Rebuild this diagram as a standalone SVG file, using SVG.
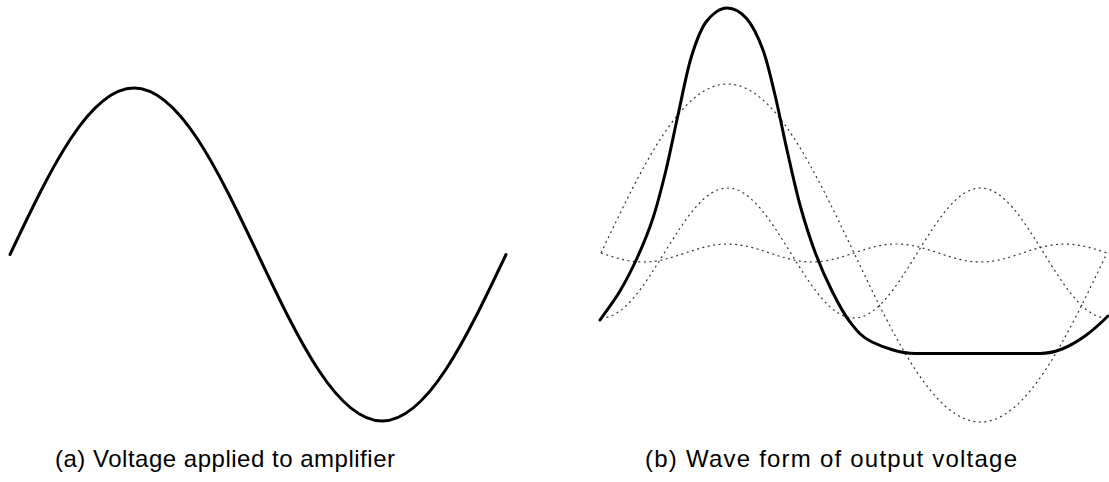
<svg xmlns="http://www.w3.org/2000/svg" width="1109" height="482" viewBox="0 0 1109 482">
<style>
.bold{fill:none;stroke:#000;stroke-width:3;stroke-linecap:round;stroke-linejoin:round}
.dot{fill:none;stroke:#333;stroke-width:1.2;stroke-dasharray:2 3.5}
.lbl{font-family:"Liberation Sans",Arial,sans-serif;font-size:24px;fill:#000}
</style>
<rect width="1109" height="482" fill="#fff"/>
<g id="panel-a">
<path id="input-sine" class="bold" d="M10,254.5 C50.44,169.2 89.12,88 134,88 S217.56,169.2 258,254.5 S337.12,421 382,421 S465.56,339.8 506,254.5"/>
<text class="lbl" x="55" y="467" textLength="340" lengthAdjust="spacing">(a) Voltage applied to amplifier</text>
</g>
<g id="panel-b">
<path id="fundamental" class="dot" d="M601,253 C642.25,166.42 681.22,84 727.5,84 S812.75,166.42 854,253 S934.72,422 980.5,422 S1065.75,339.58 1107,253"/>
<path id="second-harmonic" class="dot" d="M601,318 C623.89,318 643.62,286.3 664.25,253 S704.61,188 727.5,188 S770.12,219.7 790.75,253 S831.11,318 854,318 S896.62,286.3 917.25,253 S957.61,188 980.5,188 S1023.12,219.7 1043.75,253 S1084.11,318 1107,318"/>
<path id="third-harmonic" class="dot" d="M601,253 C614.75,257.61 627.91,262 643.17,262 S671.58,257.61 685.33,253 S712.24,244 727.5,244 S755.92,248.39 769.67,253 S796.58,262 811.83,262 S840.25,257.61 854,253 S880.91,244 896.17,244 S924.58,248.39 938.33,253 S965.24,262 980.5,262 S1008.92,257.61 1022.67,253 S1049.58,244 1064.83,244 S1093.25,248.39 1107,253"/>
<path id="output-wave" class="bold" d="M600,320 C606.67,310.33 613.67,301.67 620,291 C626.33,280.33 632.5,268.17 638,256 C643.5,243.83 648.33,232.33 653,218 C657.67,203.67 661.83,187.17 666,170 C670.17,152.83 673.83,133.67 678,115 C682.17,96.33 686.33,73.5 691,58 C695.67,42.5 700,30.33 706,22 C712,13.67 720.33,8 727,8 C733.67,8 741,12 747,19 C753,26 758.33,37.33 763,50 C767.67,62.67 771,78.33 775,95 C779,111.67 782.83,131.67 787,150 C791.17,168.33 795.33,188 800,205 C804.67,222 809.67,237.67 815,252 C820.33,266.33 826.17,279.33 832,291 C837.83,302.67 843.33,313.5 850,322 C856.67,330.5 861.17,336.75 872,342 C882.83,347.25 901,353.5 915,353.5 L1040,353.5 C1047,353.5 1054.5,351.92 1062,349 C1069.5,346.08 1077.33,341.5 1085,336 C1092.67,330.5 1101,323 1108,316"/>
<text class="lbl" x="645" y="467" textLength="372" lengthAdjust="spacing">(b) Wave form of output voltage</text>
</g>
</svg>
